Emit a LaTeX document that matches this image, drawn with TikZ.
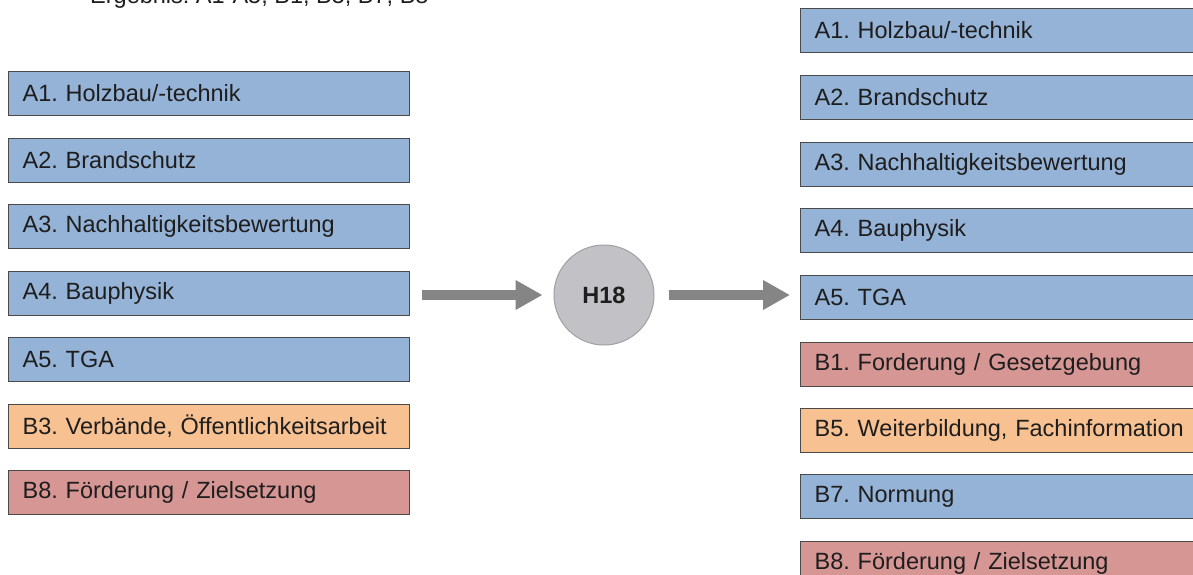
\documentclass[tikz,border=0pt]{standalone}
\usepackage{fontspec}
\setmainfont{Liberation Sans}
\usetikzlibrary{arrows.meta}
\definecolor{boxblue}{HTML}{95B3D7}
\definecolor{boxorange}{HTML}{F8C192}
\definecolor{boxred}{HTML}{D69694}
\definecolor{boxline}{HTML}{4A4A4A}
\definecolor{circfill}{HTML}{C2C2C6}
\definecolor{circline}{HTML}{A0A0A4}
\definecolor{arrowgray}{HTML}{858585}
\definecolor{txt}{HTML}{1E1E1E}
\tikzset{
  catbox/.style={draw=boxline, line width=1.2pt, rectangle, anchor=north west,
    text width=373pt, inner xsep=14pt, inner ysep=0pt, minimum height=44pt,
    align=left, font=\fontsize{23.5pt}{26pt}\selectfont\frenchspacing, text=txt},
  bluebox/.style={catbox, fill=boxblue},
  orangebox/.style={catbox, fill=boxorange},
  redbox/.style={catbox, fill=boxred},
  rbox/.style={text width=380pt},
  bigarrow/.style={draw=arrowgray, line width=10pt,
    -{Triangle[length=27pt,width=28pt,fill=arrowgray]}},
}
\begin{document}
\begin{tikzpicture}[x=1pt,y=-1pt]
\useasboundingbox (0,0) rectangle (1193,575);
\clip (0,0) rectangle (1193,575);
% title (cut off at top, as in the reference)
\node[anchor=base west, inner sep=0pt, font=\fontsize{23.5pt}{26pt}\selectfont\frenchspacing, text=txt] (title) at (90,4) {Ergebnis: A1-A5, B1, B5, B7, B8};
% left column
\node[bluebox] (la1) at (8,71) {A1. Holzbau/-technik};
\node[bluebox] (la2) at (8,137.5) {A2. Brandschutz};
\node[bluebox] (la3) at (8,204) {A3. Nachhaltigkeitsbewertung};
\node[bluebox] (la4) at (8,270.5) {A4. Bauphysik};
\node[bluebox] (la5) at (8,337) {A5. TGA};
\node[orangebox] (lb3) at (8,403.5) {B3. Verbände, Öffentlichkeitsarbeit};
\node[redbox] (lb8) at (8,470) {B8. Förderung / Zielsetzung};
% centre
\node[circle, draw=circline, line width=1pt, fill=circfill, minimum size=100pt, inner sep=0pt,
  font=\bfseries\fontsize{23.5pt}{26pt}\selectfont, text=txt] (h) at (604,295) {H18};
% right column
\node[bluebox, rbox] (ra1) at (800,8) {A1. Holzbau/-technik};
\node[bluebox, rbox] (ra2) at (800,75) {A2. Brandschutz};
\node[bluebox, rbox] (ra3) at (800,141.5) {A3. Nachhaltigkeitsbewertung};
\node[bluebox, rbox] (ra4) at (800,208) {A4. Bauphysik};
\node[bluebox, rbox] (ra5) at (800,275) {A5. TGA};
\node[redbox, rbox] (rb1) at (800,341.5) {B1. Forderung / Gesetzgebung};
\node[orangebox, rbox] (rb5) at (800,408) {B5. Weiterbildung, Fachinformation};
\node[bluebox, rbox] (rb7) at (800,474) {B7. Normung};
\node[redbox, rbox] (rb8) at (800,540.5) {B8. Förderung / Zielsetzung};
% arrows
\coordinate (s1) at ([xshift=12pt]la4.east |- h.west);
\coordinate (e1) at ([xshift=-11pt]h.west);
\draw[bigarrow] (s1) -- (e1);
\coordinate (s2) at ([xshift=14pt]h.east);
\coordinate (e2) at ([xshift=-10pt]ra5.west |- h.east);
\draw[bigarrow] (s2) -- (e2);
\end{tikzpicture}
\end{document}
